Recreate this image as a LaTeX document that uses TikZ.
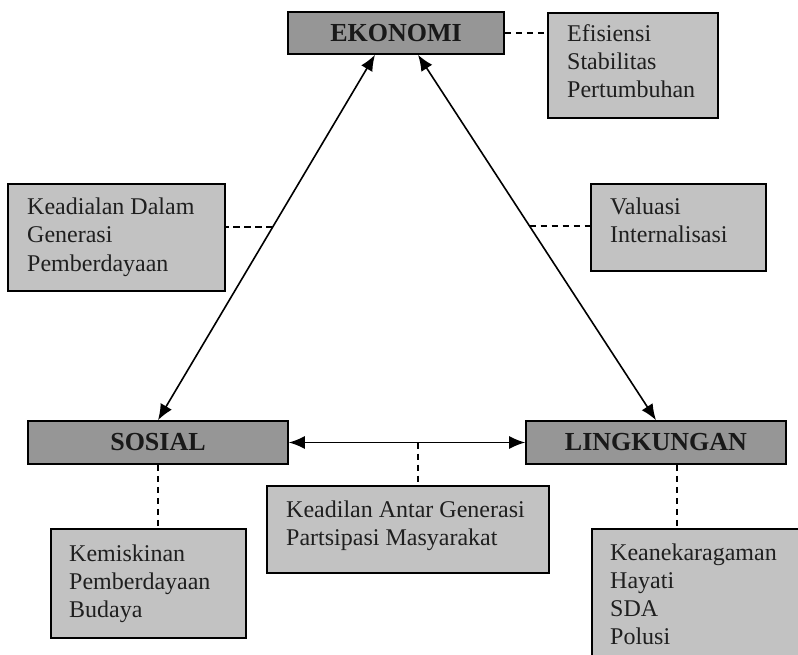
\documentclass[tikz,border=0pt]{standalone}
\usepackage{fontspec}
\setmainfont{Liberation Serif}
\usetikzlibrary{arrows.meta,calc}
\newcommand{\lines}[1]{\begin{tabular}[t]{@{}l@{}}#1\end{tabular}}
\begin{document}
\begin{tikzpicture}[x=1pt,y=-1pt,
  pillar/.style={draw=black, line width=1.6pt, fill=black!41, inner sep=0pt,
    font=\fontsize{26}{30}\selectfont\bfseries, text=black!90},
  note/.style={draw=black, line width=1.6pt, fill=black!24, inner sep=0pt, anchor=north west},
  notetext/.style={anchor=base west, inner sep=0pt,
    font=\fontsize{24}{28}\selectfont, text=black!88},
  link/.style={line width=1.6pt, {Latex[length=16pt,width=13pt]}-{Latex[length=16pt,width=13pt]}},
  tie/.style={line width=1.5pt, dash pattern=on 6.5pt off 4.5pt}]
\useasboundingbox (0,0) rectangle (798,655);
\clip (0,0) rectangle (798,655);

% the three pillars
\node[pillar, minimum width=216pt, minimum height=42pt] (eko) at (396,33) {\raisebox{-2pt}{EKONOMI}};
\node[pillar, minimum width=260pt, minimum height=43pt] (sos) at (158,442.5) {\raisebox{-2pt}{SOSIAL}};
\node[pillar, minimum width=260pt, minimum height=43pt] (lin) at (656,442.5) {\raisebox{-2pt}{LINGKUNGAN}};

% descriptive boxes
\node[note, minimum width=170pt, minimum height=105pt] (efi) at (547,12) {};
\node[notetext] (efit) at ($(efi.north west)+(20,30)$) {\lines{Efisiensi\\Stabilitas\\Pertumbuhan}};

\node[note, minimum width=217pt, minimum height=107pt] (kea) at (7,183) {};
\node[notetext] (keat) at ($(kea.north west)+(20,32)$) {\lines{Keadialan Dalam\\Generasi\\Pemberdayaan}};

\node[note, minimum width=175pt, minimum height=87pt] (val) at (590,183) {};
\node[notetext] (valt) at ($(val.north west)+(20,32)$) {\lines{Valuasi\\Internalisasi}};

\node[note, minimum width=195pt, minimum height=109pt] (kem) at (50,528) {};
\node[notetext] (kemt) at ($(kem.north west)+(19,33)$) {\lines{Kemiskinan\\Pemberdayaan\\Budaya}};

\node[note, minimum width=282pt, minimum height=87pt] (ant) at (266,485) {};
\node[notetext] (antt) at ($(ant.north west)+(20,32)$) {\lines{Keadilan Antar Generasi\\Partsipasi Masyarakat}};

\node[note, minimum width=240pt, minimum height=160pt] (ling) at (591,528) {};
\node[notetext] (lingt) at ($(ling.north west)+(19,32)$) {\lines{Keanekaragaman\\Hayati\\SDA\\Polusi}};

% two-way links between the pillars
\coordinate (ekoL) at ([xshift=-21pt]eko.south);
\coordinate (ekoR) at ([xshift=22pt]eko.south);
\draw[link] (ekoL) -- (sos.north);
\draw[link] (ekoR) -- (lin.north);
\draw[link] (sos.east) -- (lin.west);

% dashed ties to the descriptive boxes
\coordinate (pL) at ($(ekoL)!0.471!(sos.north)$);
\coordinate (pR) at ($(ekoR)!0.469!(lin.north)$);
\coordinate (pM) at ($(sos.east)!0.546!(lin.west)$);
\draw[tie] (eko.east) -- (eko.east -| efi.west);
\draw[tie] (pL) -- (pL -| kea.east);
\draw[tie] (pR) -- (pR -| val.west);
\draw[tie] (sos.south) -- (sos.south |- kem.north);
\draw[tie] (pM) -- (pM |- ant.north);
\draw[tie] ([xshift=21pt]lin.south) -- ([xshift=21pt]lin.south |- ling.north);
\end{tikzpicture}
\end{document}
